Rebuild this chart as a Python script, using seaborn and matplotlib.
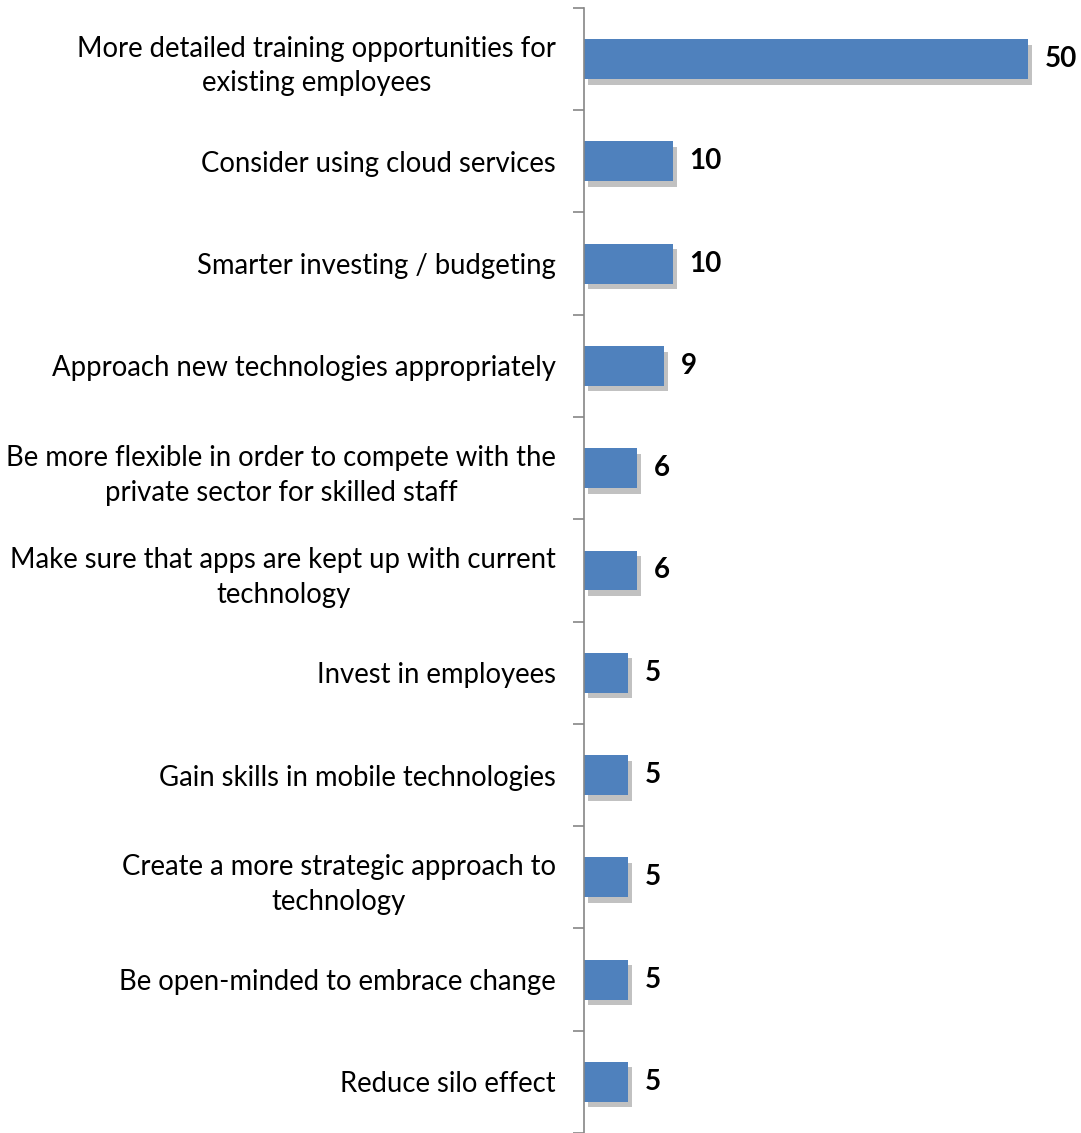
import matplotlib
matplotlib.use("Agg")
import matplotlib.pyplot as plt
import matplotlib.patheffects as pe
import seaborn as sns
import pandas as pd
import numpy as np

categories = [
    "More detailed training opportunities for\nexisting employees",
    "Consider using cloud services",
    "Smarter investing / budgeting",
    "Approach new technologies appropriately",
    "Be more flexible in order to compete with the\nprivate sector for skilled staff",
    "Make sure that apps are kept up with current\ntechnology",
    "Invest in employees",
    "Gain skills in mobile technologies",
    "Create a more strategic approach to\ntechnology",
    "Be open-minded to embrace change",
    "Reduce silo effect",
]
values = [50, 10, 10, 9, 6, 6, 5, 5, 5, 5, 5]


def main():
    sns.set_style("white")
    plt.rcParams["font.family"] = ["Lato", "DejaVu Sans"]
    df = pd.DataFrame({"label": categories, "value": values})

    fig = plt.figure(figsize=(10.81, 11.33), dpi=100)
    ax = fig.add_axes([0.540, 0.0, 0.46, 0.993])
    sns.barplot(data=df, x="value", y="label", color="#4F81BD", saturation=1,
                width=0.39, linewidth=0, ax=ax)

    for p in ax.patches:
        p.set_path_effects([pe.SimplePatchShadow(offset=(3, -4), shadow_rgbFace="#666666", alpha=0.4),
                            pe.Normal()])

    for i, v in enumerate(values):
        ax.text(v + 1.9, i, str(v), va="center", ha="left", fontsize=20,
                fontweight="bold", color="black")

    ax.set_xlim(0, 56)
    ax.set_ylim(len(values) - 0.5, -0.5)
    ax.set_xlabel("")
    ax.set_ylabel("")
    ax.set_xticks([])
    for s in ["top", "right", "bottom"]:
        ax.spines[s].set_visible(False)
    ax.spines["left"].set_color("#868686")
    ax.spines["left"].set_linewidth(1.2)

    ax.set_yticks(np.arange(len(values)))
    ax.set_yticklabels(categories, fontsize=19.8, ha="right", multialignment="center",
                       linespacing=1.42, color="black")
    ax.tick_params(axis="y", which="major", length=0, pad=20)
    ax.set_yticks(np.arange(len(values) + 1) - 0.5, minor=True)
    ax.tick_params(axis="y", which="minor", length=8, width=1.2, color="#868686",
                   direction="out", left=True)

    fig.savefig("out.png", dpi=100)


if __name__ == "__main__":
    main()
